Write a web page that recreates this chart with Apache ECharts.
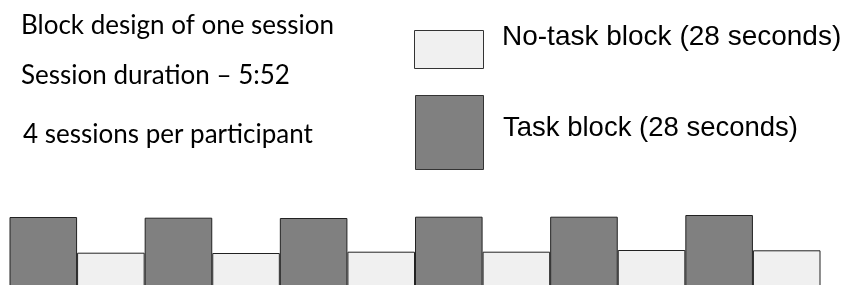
<!DOCTYPE html>
<html>
<head>
<meta charset="utf-8">
<script src="https://cdn.jsdelivr.net/npm/echarts@6/dist/echarts.min.js"></script>
<style>
  html, body { margin: 0; padding: 0; background: #fff; overflow: hidden; }
  /* taller than the window so the bar baseline sits below the visible edge */
  #chart { width: 843px; height: 295px; }
</style>
</head>
<body>
<div id="chart"></div>
<script>
// block order within one session (task first, alternating)
const blocks = ['Task', 'No-task', 'Task', 'No-task', 'Task', 'No-task',
  'Task', 'No-task', 'Task', 'No-task', 'Task', 'No-task']
// relative block heights as drawn
const taskHeights = [78, 77.3, 77, 78.3, 78.3, 80]
const noTaskHeights = [42.3, 42, 43.3, 43.3, 45, 44.7]

const infoLines = ['Block design of one session', 'Session duration \u2013 5:52', '4 sessions per participant']
const legendLabels = ['No-task block (28 seconds)', 'Task block (28 seconds)']

const taskFill = '#808080'
const noTaskFill = '#f0f0f0'

// interleave into per-category data
let ti = 0, ni = 0
const taskData = blocks.map(b => (b === 'Task' ? taskHeights[ti++] : '-'))
const noTaskData = blocks.map(b => (b === 'No-task' ? noTaskHeights[ni++] : '-'))

const chart = echarts.init(document.getElementById('chart'))

const leftFont = 'Lato, "Open Sans", sans-serif'
const rightFont = '"Liberation Sans", Arial, sans-serif'

chart.setOption({
  animation: false,
  grid: { left: 9.5, right: 22.5, top: 215, bottom: 0 },
  xAxis: {
    type: 'category',
    data: blocks.map((b, i) => b + ' ' + (i + 1)),
    show: false,
  },
  yAxis: {
    type: 'value',
    min: 0,
    max: 80,
    show: false,
  },
  series: [
    {
      name: 'Task block',
      type: 'bar',
      data: taskData,
      barCategoryGap: '0%',
      barGap: '-100%',
      itemStyle: { color: taskFill, borderColor: '#222', borderWidth: 1 },
    },
    {
      name: 'No-task block',
      type: 'bar',
      data: noTaskData,
      barCategoryGap: '0%',
      barGap: '-100%',
      itemStyle: { color: noTaskFill, borderColor: '#222', borderWidth: 1 },
    },
  ],
  graphic: [
    { type: 'text', left: 21, top: 13, style: { text: infoLines[0], font: '26px ' + leftFont, fill: '#000' } },
    { type: 'text', left: 21, top: 63, style: { text: infoLines[1], font: '26px ' + leftFont, fill: '#000' } },
    { type: 'text', left: 23, top: 122, style: { text: infoLines[2], font: '26px ' + leftFont, fill: '#000' } },
    {
      type: 'rect',
      shape: { x: 414.5, y: 30.5, width: 69, height: 38 },
      style: { fill: noTaskFill, stroke: '#333', lineWidth: 1 },
    },
    {
      type: 'rect',
      shape: { x: 415.5, y: 95.5, width: 68, height: 74 },
      style: { fill: taskFill, stroke: '#333', lineWidth: 1 },
    },
    { type: 'text', left: 502, top: 23, style: { text: legendLabels[0], font: '28px ' + rightFont, fill: '#000' } },
    { type: 'text', left: 503, top: 114, style: { text: legendLabels[1], font: '27.5px ' + rightFont, fill: '#000' } },
  ],
})
</script>
</body>
</html>
